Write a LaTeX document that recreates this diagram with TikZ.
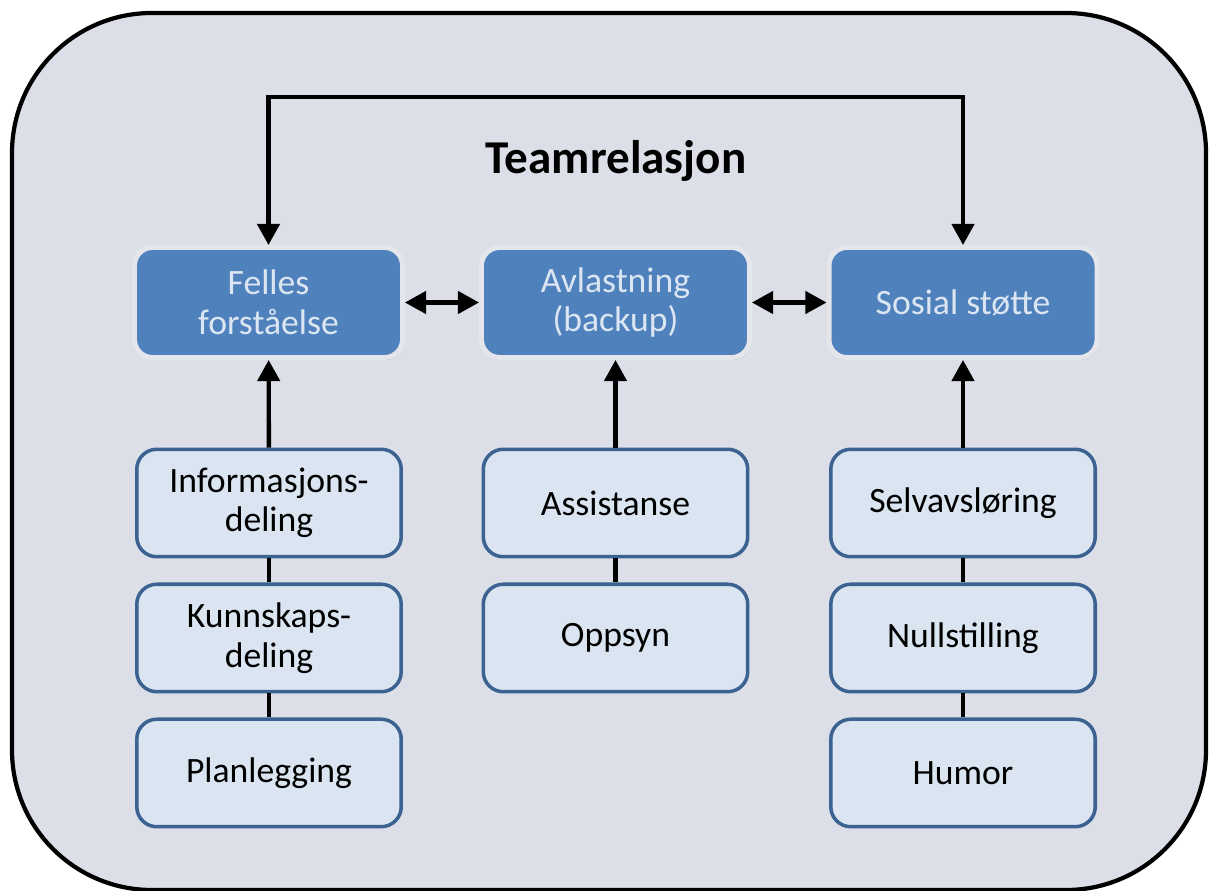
\documentclass[tikz,border=0pt]{standalone}
\usepackage{fontspec}
\setmainfont{Carlito}
\usetikzlibrary{positioning, arrows.meta, shadows}

\definecolor{panelbg}{HTML}{DCDFE7}
\definecolor{boxblue}{HTML}{4F81BD}
\definecolor{boxtext}{HTML}{DCE6F2}
\definecolor{boxglow}{HTML}{E4E6EC}
\definecolor{subfill}{HTML}{DBE5F1}
\definecolor{subedge}{HTML}{3B6291}

\begin{document}
\begin{tikzpicture}[
        x=0.02cm, y=-0.02cm,
        >={Triangle[length=12pt, width=12.5pt]},
        font=\fontsize{20.3}{22.5}\selectfont,
        topbox/.style={rectangle, rounded corners=0.36cm, fill=boxblue,
            draw=boxglow, line width=2.8pt, text=boxtext, align=center,
            minimum width=5.36cm, minimum height=2.2cm,
            drop shadow={shadow xshift=0.6pt, shadow yshift=-1.4pt,
                opacity=0.45, fill=black!45}},
        subbox/.style={rectangle, rounded corners=0.4cm, fill=subfill,
            draw=subedge, line width=2pt, align=center,
            minimum width=5.29cm, minimum height=2.15cm},
        link/.style={line width=2.5pt}
    ]
    % --- Ramme ---
    \useasboundingbox (0,0) rectangle (1209,891);
    \filldraw[fill=panelbg, draw=black, line width=2.4pt, rounded corners=2.8cm]
        (12,13) rectangle (1206,890);

    % --- Tittel ---
    \node[font=\fontsize{26.8}{30}\selectfont\bfseries, anchor=base] (title) at (616,174) {Teamrelasjon};

    % --- Hovedbokser ---
    \node[topbox] (felles) at (268.5,302.5) {Felles\\forståelse};
    \node[topbox] (avlast) at (615.5,302.5) {Avlastning\\(backup)};
    \node[topbox] (sosial) at (963,302.5) {Sosial støtte};

    % --- Underbokser ---
    \node[subbox] (info) at (269,503) {Informasjons-\\deling};
    \node[subbox, below=0.48cm of info] (kunnskap) {Kunnskaps-\\deling};
    \node[subbox, below=0.48cm of kunnskap] (plan) {Planlegging};

    \node[subbox] (assist) at (615.5,503) {Assistanse};
    \node[subbox, below=0.48cm of assist] (oppsyn) {Oppsyn};

    \node[subbox] (selv) at (963,503) {Selvavsløring};
    \node[subbox, below=0.48cm of selv] (null) {Nullstilling};
    \node[subbox, below=0.48cm of null] (humor) {Humor};

    % --- Piler ---
    \coordinate (bend) at (615,97);
    \draw[link, <->] (felles.north) -- (felles.north |- bend) -| (sosial.north);
    \draw[link, <->] (felles) -- (avlast);
    \draw[link, <->] (avlast) -- (sosial);

    \draw[link, ->] (info) -- (felles);
    \draw[link, ->] (assist) -- (avlast);
    \draw[link, ->] (selv) -- (sosial);

    \draw[link] (info) -- (kunnskap);
    \draw[link] (kunnskap) -- (plan);
    \draw[link] (assist) -- (oppsyn);
    \draw[link] (selv) -- (null);
    \draw[link] (null) -- (humor);
\end{tikzpicture}
\end{document}
